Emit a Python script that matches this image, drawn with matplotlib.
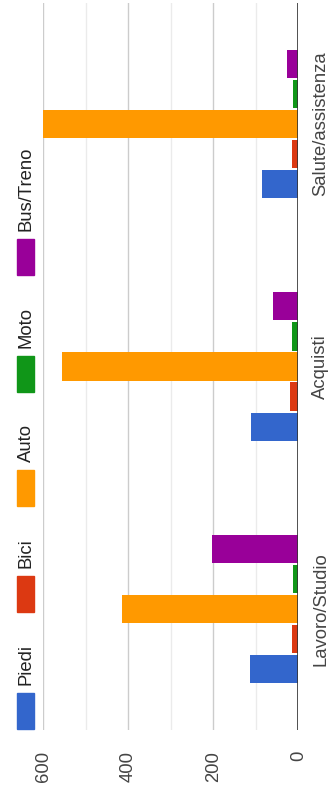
import matplotlib
matplotlib.use('Agg')
import matplotlib.pyplot as plt
from matplotlib.patches import Rectangle
import numpy as np

categories = ['Lavoro/Studio', 'Acquisti', 'Salute/assistenza']
modes = ['Piedi', 'Bici', 'Auto', 'Moto', 'Bus/Treno']
colors = ['#3366cc', '#dc3912', '#ff9900', '#109618', '#990099']
piedi = [113, 111, 85]
bici = [15, 19, 15]
auto = [416, 556, 623]
moto = [12, 15, 12]
bus_treno = [203, 60, 27]
value_ticks = [0, 200, 400, 600]
minor_ticks = [100, 300, 500]

plt.rcParams['font.family'] = ['Liberation Sans', 'DejaVu Sans']
text_color = '#444444'
fs = 13.3

W, H = 329, 796
fig = plt.figure(figsize=(W / 100, H / 100), dpi=100)
ax = fig.add_axes([43.3 / W, (H - 730) / H, 255 / W, 727 / H])

# grouped bars, laid out sideways: categories run bottom to top
series = [piedi, bici, auto, moto, bus_treno]
y = np.arange(len(categories))
step = 0.124
for i, (vals, c) in enumerate(zip(series, colors)):
    ax.barh(y + (i - 2) * step, vals, height=0.116, color=c, zorder=2)

ax.set_xlim(600, 0)
ax.set_ylim(-0.5, 2.5)
ax.set_xticks(value_ticks)
ax.set_xticks(minor_ticks, minor=True)
ax.grid(axis='x', which='major', color='#cccccc', lw=1, zorder=0)
ax.grid(axis='x', which='minor', color='#ebebeb', lw=1, zorder=0)
ax.axvline(0, color='#333333', lw=1.2, zorder=3)
ax.tick_params(axis='x', which='both', length=0, pad=15, labelsize=fs,
               labelcolor=text_color, labelrotation=90)

ax.yaxis.tick_right()
ax.set_yticks(y)
ax.set_yticklabels(categories, rotation=90, va='center', ha='left',
                   fontsize=fs, color=text_color)
ax.tick_params(axis='y', length=0, pad=10)
for s in ax.spines.values():
    s.set_visible(False)

# legend down the left edge, stacked from the bottom up
fig.canvas.draw()
renderer = fig.canvas.get_renderer()
pos = 729  # pixel row (from top) of the first swatch's lower edge
for name, c in zip(modes, colors):
    fig.patches.append(Rectangle((17 / W, (H - pos) / H), 17 / W, 36 / H,
                                 transform=fig.transFigure, color=c))
    pos -= 36 + 8
    t = fig.text(26 / W, (H - pos) / H, name, rotation=90, ha='center',
                 va='bottom', fontsize=fs, color='#222222')
    ext = t.get_window_extent(renderer)
    pos -= ext.height + 32

fig.savefig('out.png', dpi=100, facecolor='white')
